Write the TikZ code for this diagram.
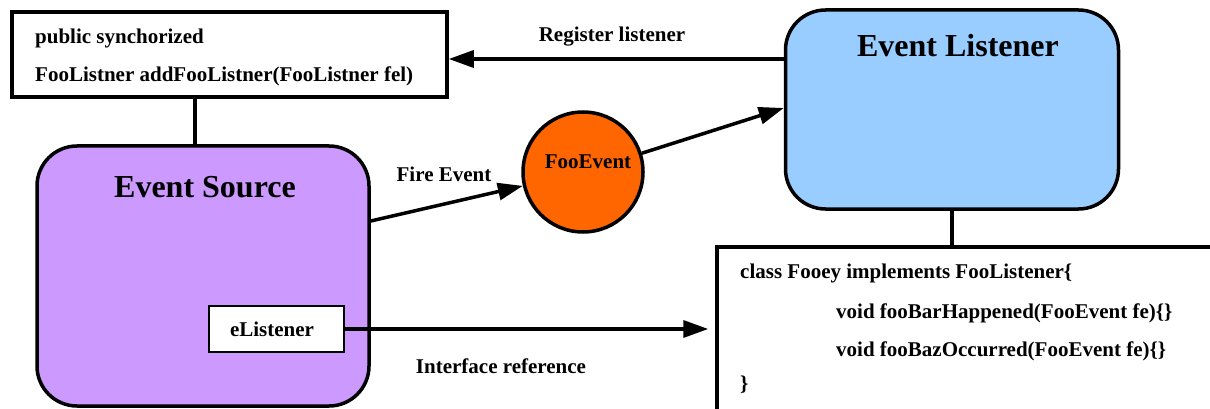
\documentclass[tikz,border=0pt]{standalone}
\usepackage{fontspec}
\setmainfont{Liberation Serif}
\usetikzlibrary{arrows.meta}
\definecolor{srcfill}{HTML}{CC99FF}
\definecolor{lsnfill}{HTML}{99CCFF}
\definecolor{evtfill}{HTML}{FF6600}
\tikzset{
  txt/.style={font=\bfseries\fontsize{21}{25}\selectfont, inner sep=0pt},
  title/.style={font=\bfseries\fontsize{32}{36}\selectfont, inner sep=0pt},
  codebox/.style={draw, line width=3.5pt, fill=white, rectangle, inner sep=0pt},
  actor/.style={draw, line width=3.5pt, rounded corners=40pt, rectangle, inner sep=0pt},
  link/.style={line width=3.5pt},
  flow/.style={line width=3.5pt, -{Triangle[length=25pt,width=17pt]}},
}
\begin{document}
\begin{tikzpicture}[x=1pt, y=-1pt]
  \clip (0,0) rectangle (1210,409);
  \fill[white] (0,0) rectangle (1210,409);

  % method declaration box
  \node[codebox, minimum width=435pt, minimum height=85pt] (method) at (229.5,54.5) {};
  \node[txt, anchor=base west] (m1) at (35,44) {public synchorized};
  \node[txt, anchor=base west] (m2) at (35,82) {FooListner addFooListner(FooListner fel)};

  % event source
  \node[actor, fill=srcfill, minimum width=332pt, minimum height=260pt] (source) at (203,276) {};
  \node[title, anchor=base] (srctitle) at (205,197) {Event Source};
  \node[draw, line width=2pt, fill=white, minimum width=135pt, minimum height=46pt, inner sep=0pt] (elis) at (276.5,329) {};
  \node[txt, anchor=base] (elistxt) at (272,336) {eListener};

  % event listener
  \node[actor, fill=lsnfill, minimum width=333pt, minimum height=199pt] (listener) at (952,109.5) {};
  \node[title, anchor=base] (lsntitle) at (958,57) {Event Listener};

  % listener implementation
  \node[codebox, minimum width=520pt, minimum height=200pt] (impl) at (977,347) {};
  \node[txt, anchor=base west] (c1) at (740,278) {class Fooey implements FooListener\{};
  \node[txt, anchor=base west] (c2) at (836,318) {void fooBarHappened(FooEvent fe)\{\}};
  \node[txt, anchor=base west] (c3) at (836,356) {void fooBazOccurred(FooEvent fe)\{\}};
  \node[txt, anchor=base west] (c4) at (740,390) {\}};

  % the event object
  \node[draw, line width=3.5pt, circle, fill=evtfill, minimum size=120pt, inner sep=0pt] (event) at (583,172) {};
  \node[txt, anchor=base] (evttxt) at (588,168) {FooEvent};

  % helper points on the borders
  \coordinate (mx) at (195,0);
  \coordinate (lx) at (952,0);
  \coordinate (ry) at (0,59);
  \coordinate (fy) at (0,221);
  \coordinate (ly) at (0,108);

  % connectors
  \draw[link] (method.south -| mx) -- (source.north -| mx);
  \draw[link] (listener.south -| lx) -- (impl.north -| lx);
  \draw[flow] (listener.west |- ry) -- (method.east |- ry);
  \draw[flow] (source.east |- fy) -- (event);
  \draw[flow] (event) -- (listener.west |- ly);
  \draw[flow, shorten >=7pt] (elis.east) -- (impl.west |- elis.east);

  % labels
  \node[txt, anchor=base] (lreg) at (612,42) {Register listener};
  \node[txt, anchor=base] (lfire) at (444,181) {Fire Event};
  \node[txt, anchor=base] (lref) at (501,373) {Interface reference};
\end{tikzpicture}
\end{document}
